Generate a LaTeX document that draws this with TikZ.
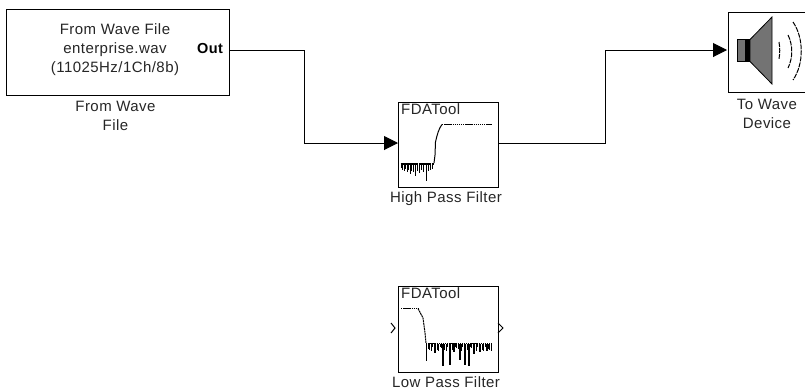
\documentclass[tikz,border=0pt]{standalone}
\usepackage{fontspec}
\setmainfont[LetterSpace=3]{Liberation Sans}
\usetikzlibrary{arrows.meta}
\tikzset{
 blockbox/.style={draw=black,line width=1.1pt,fill=white,inner sep=0pt,anchor=north west},
 lbl/.style={font=\fontsize{15}{19}\selectfont,align=center,inner sep=0pt,text=black!85},
 wire/.style={draw=black,line width=1pt,-{Triangle[length=14pt,width=14pt]}},
 port/.style={draw=black,line width=1pt,line join=miter},
 curve/.style={draw=black,line width=1.6pt,dash pattern=on 1.4pt off .7pt},
 spike/.style={draw=black,line width=1pt},
 wave/.style={draw=black,line width=1pt,dash pattern=on 5pt off 1pt},
}
\begin{document}
\begin{tikzpicture}[x=1pt,y=-1pt]
\useasboundingbox (0,0) rectangle (805,389);
% blocks
\node[blockbox,minimum width=223pt,minimum height=86pt] (src) at (6,9) {};
\node[blockbox,minimum width=100pt,minimum height=85pt] (hp) at (398,102) {};
\node[blockbox,minimum width=100pt,minimum height=86pt] (lp) at (398,286) {};
\begin{scope}
\clip (0,0) rectangle (805,389);
\node[blockbox,minimum width=85pt,minimum height=80pt] (snd) at (728,12) {};
\end{scope}
% source text
\node[lbl] (srct) at (115,49.5) {From Wave File\\enterprise.wav\\(11025Hz/1Ch/8b)};
\node[lbl,font=\fontsize{14.5}{16}\selectfont\bfseries,text=black] (out) at (210,49) {Out};
\node[lbl] (srcl) at (115.5,116) {From Wave\\File};
% filter labels
\node[lbl,anchor=west,text=black!85] (hpt) at (401,109.5) {FDATool};
\node[lbl] (hpl) at (446,199) {High Pass Filter};
\node[lbl,anchor=west,text=black!85] (lpt) at (401,293.5) {FDATool};
\node[lbl] (lpl) at (446,382) {Low Pass Filter};
\node[lbl] (sndl) at (767,114) {To Wave\\Device};
% wires
\coordinate (a1) at (304,50);
\coordinate (a2) at (304,143);
\coordinate (b1) at (605,143);
\coordinate (b2) at (605,50);
\coordinate (srcout) at (229,50);
\coordinate (hpin) at (398,143);
\coordinate (hpout) at (498,143);
\coordinate (sndin) at (727,50);
\draw[wire] (srcout) -- (a1) -- (a2) -- (hpin);
\draw[wire] (hpout) -- (b1) -- (b2) -- (sndin);
% low pass ports
\draw[port] (391,323) -- (395,328) -- (391,333);
\draw[port] (498,323) -- (503,328) -- (498,333);
% high pass response
\draw[curve] (442,124.5) -- (492,124.5);
\draw[line width=2.4pt,black,dash pattern=on 2pt off .6pt] (400.5,164) -- (434,164);
\draw[spike] (434,163) -- (435,155) -- (435.5,142) .. controls (437,135) and (439,128) .. (442,124.5);
\foreach \x/\y in {401/168,402.5/170,404/171,405.5/169,407/172,408.5/170,410/174,411.5/171,413/172,415/176,417/171,419/173,421/170,423/172,426/181,428/171,430/170,432/169}
  \draw[black,line width=1pt] (\x,163) -- (\x,\y);
% low pass response
\draw[curve] (401,308.5) -- (418,308.5);
\draw[spike,dash pattern=on 2pt off .6pt] (418,308.5) -- (423,318) -- (425,333) -- (426,343);
\draw[spike] (426,343) -- (426,361);
\draw[curve] (426,343.5) -- (492,343.5);
\foreach \x in {428,429.5,...,492}
  {\pgfmathsetmacro{\yy}{347+mod(\x*2*7,5)}
  \draw[black,line width=.7pt] (\x,344) -- (\x,\yy);}
\foreach \x/\y in {435/353,443/366,450/365,454/352,460/360,465/365,469/366,474/354,480/352,487/351}
  \draw[black,line width=1.1pt] (\x,344) -- (\x,\y);
% speaker
\draw[black,line width=.8pt,fill=black!55] (737.5,39.5) rectangle (750,61.5);
\fill[black] (745,39.5) rectangle (750,61.5);
\draw[black,line width=.8pt,fill=black!55] (750,39.5) -- (772,17) -- (772,84) -- (750,61.5) -- cycle;
\draw[wave] (779,42) .. controls (780,48) and (780,53) .. (779,59);
\draw[wave] (788,35) .. controls (793,45) and (793,58) .. (788,68);
\draw[wave] (793,22) .. controls (804,38) and (804,64) .. (793,80);
\end{tikzpicture}
\end{document}
